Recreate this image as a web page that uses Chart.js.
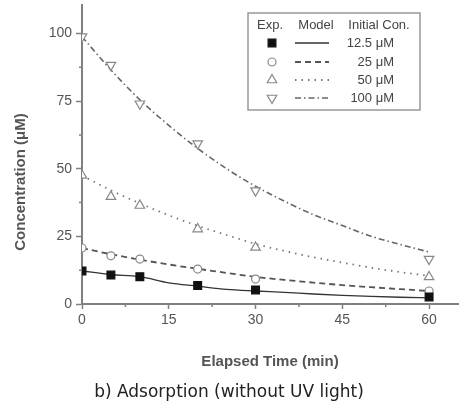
<!DOCTYPE html>
<html>
<head>
<meta charset="utf-8">
<script src="https://cdn.jsdelivr.net/npm/chart.js@4/dist/chart.umd.min.js"></script>
<style>
  html, body { margin: 0; padding: 0; background: #fff; }
  #wrap { width: 460px; height: 408px; }
</style>
</head>
<body>
<div id="wrap"><canvas id="canvas1" width="460" height="408"></canvas></div>
<script>
// Data
let modelTime = [0, 5, 10, 15, 20, 25, 30, 35, 40, 45, 50, 55, 60];
let model125 = [12.2, 10.9, 10.1, 7.8, 6.6, 5.4, 4.8, 4.3, 3.7, 3.2, 2.8, 2.5, 2.3];
let model25 = [20.7, 18.4, 16.4, 14.6, 13.0, 11.5, 10.0, 8.9, 7.9, 7.0, 6.2, 5.5, 4.8];
let model50 = [47.5, 42.0, 37.2, 32.8, 28.9, 25.5, 22.2, 19.6, 17.3, 15.3, 13.4, 11.8, 10.4];
let model100 = [98.8, 86.5, 75.5, 66.0, 57.5, 50.0, 43.5, 38.0, 33.0, 29.0, 25.0, 22.0, 19.2];

let expTime = [0, 5, 10, 20, 30, 60];
let exp125 = [12.2, 10.7, 10.1, 6.8, 5.2, 2.6];
let exp25 = [20.7, 17.8, 16.6, 12.9, 9.2, 4.8];
let exp50 = [47.5, 39.7, 36.4, 27.7, 20.9, 10.0];
let exp100 = [98.8, 88.3, 74.0, 59.3, 41.9, 16.6];

let xTicks = [0, 15, 30, 45, 60];
let yTicks = [0, 25, 50, 75, 100];
let xMinor = [7.5, 22.5, 37.5, 52.5];
let yMinor = [12.5, 37.5, 62.5, 87.5];
let concLabels = ["12.5 \u03bcM", "25 \u03bcM", "50 \u03bcM", "100 \u03bcM"];

let pts = (xs, ys) => xs.map((x, i) => ({ x: x, y: ys[i] }));
let FONT = "'Liberation Sans', Arial, sans-serif";
let AXIS = "#808080";

// marker + line styles for the 4 series
let markers = [
    { pointStyle: "rect", radius: 5.5, rotation: 0, bg: "#111", border: "#111" },
    { pointStyle: "circle", radius: 4, rotation: 0, bg: "#fff", border: "#888" },
    { pointStyle: "triangle", radius: 5.5, rotation: 0, bg: "#fff", border: "#888" },
    { pointStyle: "triangle", radius: 5.5, rotation: 180, bg: "#fff", border: "#888" },
];
let lines = [
    { color: "#333", width: 1.3, dash: [] },
    { color: "#555", width: 1.8, dash: [6, 4] },
    { color: "#777", width: 1.8, dash: [1.5, 5] },
    { color: "#666", width: 1.6, dash: [6, 3, 1.5, 3] },
];

let modelSets = [model125, model25, model50, model100];
let expSets = [exp125, exp25, exp50, exp100];

let datasets = [];
modelSets.forEach((m, i) => {
    datasets.push({
        label: "model " + concLabels[i],
        data: pts(modelTime, m),
        showLine: true,
        pointRadius: 0,
        borderColor: lines[i].color,
        borderWidth: lines[i].width,
        borderDash: lines[i].dash,
        cubicInterpolationMode: "monotone",
        order: 1,
    });
});
expSets.forEach((e, i) => {
    datasets.push({
        label: "exp " + concLabels[i],
        data: pts(expTime, e),
        showLine: false,
        pointStyle: markers[i].pointStyle,
        pointRadius: markers[i].radius,
        pointRotation: markers[i].rotation,
        pointBackgroundColor: markers[i].bg,
        pointBorderColor: markers[i].border,
        pointBorderWidth: 1.2,
        clip: 0,
        order: 0,
    });
});

function drawMarker(ctx, m, x, y) {
    ctx.save();
    ctx.fillStyle = m.bg;
    ctx.strokeStyle = m.border;
    ctx.lineWidth = 1.2;
    if (Chart.helpers && Chart.helpers.drawPoint) {
        Chart.helpers.drawPoint(ctx, { pointStyle: m.pointStyle, rotation: m.rotation, radius: m.radius, borderWidth: 1.2 }, x, y);
    }
    ctx.restore();
}

// minor ticks, y title and the boxed legend
let extras = {
    id: "extras",
    afterDraw(chart) {
        let ctx = chart.ctx;
        let xs = chart.scales.x, ys = chart.scales.y;
        let area = chart.chartArea;
        ctx.save();
        ctx.strokeStyle = AXIS;
        ctx.lineWidth = 1.5;
        ctx.beginPath();
        xMinor.forEach(v => {
            let px = xs.getPixelForValue(v);
            ctx.moveTo(px, area.bottom);
            ctx.lineTo(px, area.bottom + 3);
        });
        yMinor.forEach(v => {
            let py = ys.getPixelForValue(v);
            ctx.moveTo(area.left, py);
            ctx.lineTo(area.left - 3, py);
        });
        ctx.stroke();

        // y axis title
        ctx.fillStyle = "#555";
        ctx.font = "bold 15px " + FONT;
        ctx.textAlign = "center";
        ctx.textBaseline = "middle";
        ctx.translate(21, 182);
        ctx.rotate(-Math.PI / 2);
        ctx.fillText("Concentration (\u03bcM)", 0, 0);
        ctx.restore();

        // legend box
        ctx.save();
        ctx.strokeStyle = "#999";
        ctx.lineWidth = 1.5;
        ctx.fillStyle = "#fff";
        ctx.fillRect(248, 13, 172, 97);
        ctx.strokeRect(248, 13, 172, 97);
        ctx.fillStyle = "#444";
        ctx.font = "13px " + FONT;
        ctx.textBaseline = "middle";
        ctx.textAlign = "center";
        ctx.fillText("Exp.", 270, 25);
        ctx.fillText("Model", 316, 25);
        ctx.fillText("Initial Con.", 379, 25);
        let rowY = [43, 62, 80, 98];
        rowY.forEach((ry, i) => {
            drawMarker(ctx, markers[i], 272, ry);
            ctx.save();
            ctx.strokeStyle = lines[i].color;
            ctx.lineWidth = lines[i].width;
            ctx.setLineDash(lines[i].dash);
            ctx.beginPath();
            ctx.moveTo(295, ry);
            ctx.lineTo(329, ry);
            ctx.stroke();
            ctx.restore();
            ctx.fillStyle = "#444";
            ctx.textAlign = "right";
            ctx.fillText(concLabels[i], 394, ry);
        });
        ctx.restore();
    }
};

let myChart1 = document.querySelector("#canvas1").getContext("2d");
let chart = new Chart(myChart1, {
    type: "scatter",
    data: { datasets: datasets },
    options: {
        responsive: false,
        animation: false,
        layout: { autoPadding: false, padding: { top: 5, right: 2, left: 0, bottom: 0 } },
        plugins: {
            legend: { display: false },
            tooltip: { enabled: false },
            title: {
                display: true,
                position: "bottom",
                text: "b) Adsorption (without UV light)",
                color: "#222",
                font: { family: "'DejaVu Sans', sans-serif", size: 17, weight: "normal", lineHeight: 1.2 },
                padding: { top: 0, bottom: 5 },
            },
        },
        scales: {
            x: {
                type: "linear",
                min: 0,
                max: 65,
                afterFit: s => { s.height = 78.6; s.paddingLeft = 0; s.paddingRight = 0; },
                afterBuildTicks: s => { s.ticks = xTicks.map(v => ({ value: v })); },
                ticks: { color: "#555", font: { family: FONT, size: 14 }, padding: 3, maxRotation: 0 },
                grid: { drawOnChartArea: false, drawTicks: true, tickLength: 5, color: AXIS, tickWidth: 1.5 },
                border: { display: true, color: AXIS, width: 2 },
                title: {
                    display: true,
                    text: "Elapsed Time (min)",
                    color: "#555",
                    font: { family: FONT, size: 15, weight: "bold", lineHeight: 1.2 },
                    padding: { top: 0, bottom: 12 },
                },
            },
            y: {
                type: "linear",
                min: 0,
                max: 110.5,
                afterFit: s => { s.width = 82; s.paddingTop = 0; s.paddingBottom = 0; },
                afterBuildTicks: s => { s.ticks = yTicks.map(v => ({ value: v })); },
                ticks: { color: "#555", font: { family: FONT, size: 14 }, padding: 4 },
                grid: { drawOnChartArea: false, drawTicks: true, tickLength: 6, color: AXIS, tickWidth: 1.5 },
                border: { display: true, color: AXIS, width: 2 },
            },
        },
    },
    plugins: [extras],
});
</script>
</body>
</html>
